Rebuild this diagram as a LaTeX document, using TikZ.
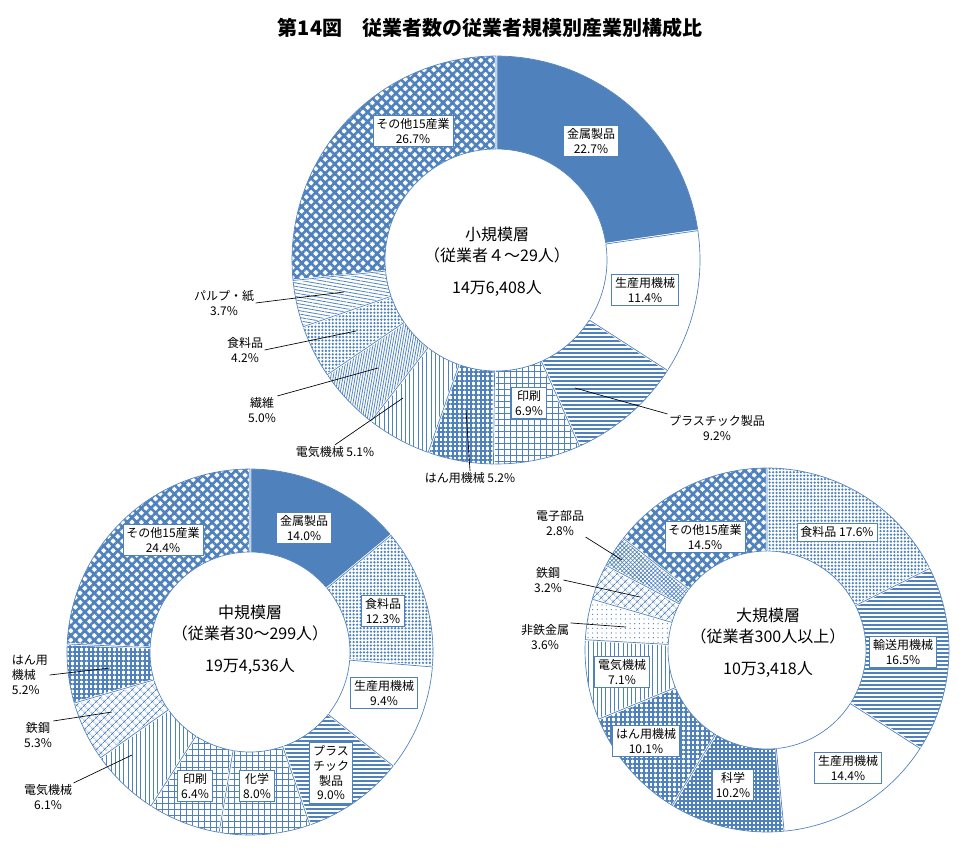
\documentclass[tikz,border=0pt]{standalone}
\usepackage{fontspec}
\setmainfont{Noto Sans CJK JP}
\usetikzlibrary{patterns,patterns.meta}
\definecolor{cb}{RGB}{79,129,189}
\newcommand\slc[7]{%
 \path[shift={(#1,#2)},#7] (90-3.6*#5:#3) arc[start angle=90-3.6*#5,end angle=90-3.6*#6,radius=#3] -- (90-3.6*#6:#4) arc[start angle=90-3.6*#6,end angle=90-3.6*#5,radius=#4] -- cycle;
 \draw[shift={(#1,#2)},white,line width=1.6pt] (90-3.6*#5:#3) arc[start angle=90-3.6*#5,end angle=90-3.6*#6,radius=#3] -- (90-3.6*#6:#4) arc[start angle=90-3.6*#6,end angle=90-3.6*#5,radius=#4] -- cycle;
 \draw[shift={(#1,#2)},cb,line width=0.5pt] (90-3.6*#5:#3-1) arc[start angle=90-3.6*#5,end angle=90-3.6*#6,radius=#3-1] -- (90-3.6*#6:#4+1) arc[start angle=90-3.6*#6,end angle=90-3.6*#5,radius=#4+1] -- cycle;}
\tikzset{
 solidp/.style={fill=cb},
 whitep/.style={fill=white},
 foodp/.style={pattern={Dots[distance=2.6pt,radius=0.95pt]},pattern color=cb},
 hlinep/.style={pattern={Lines[angle=0,distance=3pt,line width=1pt]},pattern color=cb},
 gridp/.style={pattern={Hatch[angle=0,distance=4.5pt,line width=0.5pt]},pattern color=cb},
 densegridp/.style={pattern={Hatch[angle=0,distance=3pt,line width=0.8pt]},pattern color=cb},
 checkp/.style={pattern={Hatch[angle=0,distance=3.5pt,line width=1.5pt]},pattern color=cb},
 elecp/.style={pattern={Lines[angle=90,distance=3.2pt,line width=0.6pt]},pattern color=cb},
 fiberp/.style={pattern={Lines[angle=80,distance=1.8pt,line width=0.6pt]},pattern color=cb},
 pulpp/.style={pattern={Lines[angle=-10,distance=2.5pt,line width=0.6pt]},pattern color=cb},
 otherp/.style={pattern={Hatch[angle=45,distance=5pt,line width=2pt]},pattern color=cb},
 steelp/.style={pattern={Hatch[angle=45,distance=4pt,line width=0.5pt]},pattern color=cb},
 partp/.style={pattern={Hatch[angle=45,distance=2.2pt,line width=0.5pt]},pattern color=cb},
 nfp/.style={pattern={Dots[distance=3.5pt,radius=0.5pt]},pattern color=cb},
 lbl/.style={draw=cb,fill=white,line width=0.5pt,inner sep=2.5pt,align=center,font=\fontsize{9}{11}\selectfont},
 txt/.style={align=center,font=\fontsize{9}{11}\selectfont,inner sep=1pt},
 ctr/.style={align=center,font=\fontsize{12}{16}\selectfont},
 lead/.style={draw=black,line width=0.5pt}
}
\begin{document}
\begin{tikzpicture}[x=0.75pt,y=0.75pt]
\useasboundingbox (0,0) rectangle (969,-857);
\node[font=\bfseries\fontsize{15}{18}\selectfont] (title) at (490,-28) {第14図　従業者数の従業者規模別産業別構成比};
% top chart
\def\cx{496}\def\cy{-260}\def\R{205}\def\r{110}
\slc{\cx}{\cy}{\R}{\r}{0}{22.7}{solidp}
\slc{\cx}{\cy}{\R}{\r}{22.7}{34.1}{whitep}
\slc{\cx}{\cy}{\R}{\r}{34.1}{43.3}{hlinep}
\slc{\cx}{\cy}{\R}{\r}{43.3}{50.2}{gridp}
\slc{\cx}{\cy}{\R}{\r}{50.2}{55.4}{checkp}
\slc{\cx}{\cy}{\R}{\r}{55.4}{60.5}{elecp}
\slc{\cx}{\cy}{\R}{\r}{60.5}{65.5}{fiberp}
\slc{\cx}{\cy}{\R}{\r}{65.5}{69.7}{foodp}
\slc{\cx}{\cy}{\R}{\r}{69.7}{73.4}{pulpp}
\slc{\cx}{\cy}{\R}{\r}{73.4}{100}{otherp}
\node[ctr] (c1) at (497,-262) {小規模層\\（従業者４～29人）\\[8pt]14万6,408人};
\node[lbl] (t1) at (591,-141) {金属製品\\22.7\%};
\node[lbl] (t2) at (645,-290) {生産用機械\\11.4\%};
\node[lbl] (t4) at (529,-403) {印刷\\6.9\%};
\node[lbl] (t10) at (413,-131) {その他15産業\\26.7\%};
\node[txt] (t3) at (717,-428) {プラスチック製品\\9.2\%};
\node[txt] (t5) at (470,-478) {はん用機械 5.2\%};
\node[txt] (t6) at (335,-452) {電気機械 5.1\%};
\node[txt] (t7) at (262,-410) {繊維\\5.0\%};
\node[txt] (t8) at (245,-350) {食料品\\4.2\%};
\node[txt] (t9) at (224,-303) {パルプ・紙\\3.7\%};
\coordinate (p3) at (575,-388); \draw[lead] (p3) -- (t3.north west);
\coordinate (p5) at (466,-410); \draw[lead] (p5) -- (t5.north);
\coordinate (p6) at (403,-398); \draw[lead] (p6) -- (t6.north);
\coordinate (p7) at (378,-368); \draw[lead] (p7) -- (t7.north east);
\coordinate (p8) at (356,-331); \draw[lead] (p8) -- (t8.east);
\coordinate (p9) at (344,-292); \draw[lead] (p9) -- (t9.east);
% bottom left
\def\cx{250}\def\cy{-652}\def\R{184}\def\r{99}
\slc{\cx}{\cy}{\R}{\r}{0}{14.0}{solidp}
\slc{\cx}{\cy}{\R}{\r}{14.0}{26.3}{foodp}
\slc{\cx}{\cy}{\R}{\r}{26.3}{35.7}{whitep}
\slc{\cx}{\cy}{\R}{\r}{35.7}{44.7}{hlinep}
\slc{\cx}{\cy}{\R}{\r}{44.7}{52.7}{gridp}
\slc{\cx}{\cy}{\R}{\r}{52.7}{59.1}{gridp}
\slc{\cx}{\cy}{\R}{\r}{59.1}{65.2}{elecp}
\slc{\cx}{\cy}{\R}{\r}{65.2}{70.5}{steelp}
\slc{\cx}{\cy}{\R}{\r}{70.5}{75.7}{checkp}
\slc{\cx}{\cy}{\R}{\r}{75.7}{100}{otherp}
\node[ctr] (c2) at (250,-640) {中規模層\\（従業者30～299人）\\[8pt]19万4,536人};
\node[lbl] (m1) at (304,-528) {金属製品\\14.0\%};
\node[lbl] (m2) at (383,-611) {食料品\\12.3\%};
\node[lbl] (m3) at (384,-693) {生産用機械\\9.4\%};
\node[lbl] (m4) at (331,-773) {プラス\\チック\\製品\\9.0\%};
\node[lbl] (m5) at (257,-786) {化学\\8.0\%};
\node[lbl] (m6) at (195,-786) {印刷\\6.4\%};
\node[lbl] (m10) at (163,-540) {その他15産業\\24.4\%};
\node[txt] (m7) at (48,-797) {電気機械\\6.1\%};
\node[txt] (m8) at (38,-735) {鉄鋼\\5.3\%};
\node[txt,align=left] (m9) at (30,-675) {はん用\\機械\\5.2\%};
\coordinate (q7) at (132,-755); \draw[lead] (q7) -- (m7.north east);
\coordinate (q8) at (112,-712); \draw[lead] (q8) -- (m8.north east);
\coordinate (q9) at (110,-668); \draw[lead] (q9) -- (m9.east);
% bottom right
\def\cx{767}\def\cy{-650}\def\R{183}\def\r{98}
\slc{\cx}{\cy}{\R}{\r}{0}{17.6}{foodp}
\slc{\cx}{\cy}{\R}{\r}{17.6}{34.1}{hlinep}
\slc{\cx}{\cy}{\R}{\r}{34.1}{48.5}{whitep}
\slc{\cx}{\cy}{\R}{\r}{48.5}{58.7}{densegridp}
\slc{\cx}{\cy}{\R}{\r}{58.7}{68.8}{checkp}
\slc{\cx}{\cy}{\R}{\r}{68.8}{75.9}{elecp}
\slc{\cx}{\cy}{\R}{\r}{75.9}{79.5}{nfp}
\slc{\cx}{\cy}{\R}{\r}{79.5}{82.7}{steelp}
\slc{\cx}{\cy}{\R}{\r}{82.7}{85.5}{partp}
\slc{\cx}{\cy}{\R}{\r}{85.5}{100}{otherp}
\node[ctr] (c3) at (768,-643) {大規模層\\（従業者300人以上）\\[8pt]10万3,418人};
\node[lbl] (b1) at (837,-532) {食料品 17.6\%};
\node[lbl] (b2) at (903,-652) {輸送用機械\\16.5\%};
\node[lbl] (b3) at (848,-768) {生産用機械\\14.4\%};
\node[lbl] (b4) at (733,-785) {科学\\10.2\%};
\node[lbl] (b5) at (646,-741) {はん用機械\\10.1\%};
\node[lbl] (b6) at (622,-672) {電気機械\\7.1\%};
\node[lbl] (b10) at (705,-537) {その他15産業\\14.5\%};
\node[txt] (b7) at (545,-637) {非鉄金属\\3.6\%};
\node[txt] (b8) at (548,-580) {鉄鋼\\3.2\%};
\node[txt] (b9) at (560,-523) {電子部品\\2.8\%};
\coordinate (r7) at (626,-627); \draw[lead] (r7) -- (b7.north east);
\coordinate (r8) at (640,-597); \draw[lead] (r8) -- (b8.east);
\coordinate (r9) at (622,-560); \draw[lead] (r9) -- (b9.south east);
\end{tikzpicture}
\end{document}
